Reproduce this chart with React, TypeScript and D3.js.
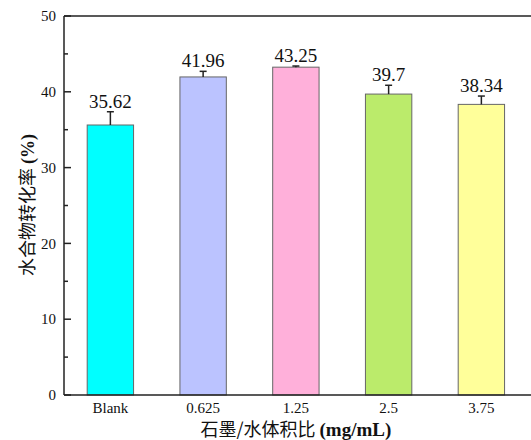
import React, { useEffect, useRef } from "react";
import * as d3 from "d3";

const categories = ["Blank", "0.625", "1.25", "2.5", "3.75"];
const values = [35.62, 41.96, 43.25, 39.7, 38.34];
const errors = [1.75, 0.74, 0.15, 1.16, 1.1];
const labels = ["35.62", "41.96", "43.25", "39.7", "38.34"];
const colors = ["#00FFFF", "#BBC3FF", "#FFB0DA", "#BBEB6B", "#FFFF9A"];
const majorTicks = [0, 10, 20, 30, 40, 50];
const minorTicks = [5, 15, 25, 35, 45];

export default function App() {
  const svgRef = useRef<SVGSVGElement>(null);

  useEffect(() => {
    const w = 531;
    const h = 440;
    const left = 64;
    const top = 16;
    const bottom = 395;
    const serif = "'Liberation Serif', 'Times New Roman', serif";

    d3.select(svgRef.current).selectAll("*").remove();
    const svg = d3.select(svgRef.current).attr("width", w).attr("height", h);

    const x = d3
      .scaleBand()
      .domain(categories)
      .range([left, left + 463.75])
      .paddingInner(0.5)
      .paddingOuter(0.25);

    const y = d3.scaleLinear().domain([0, 50]).range([bottom, top]);

    // bars
    svg
      .selectAll(".bar")
      .data(values)
      .join("rect")
      .attr("x", (d, i) => x(categories[i])!)
      .attr("y", (d) => y(d))
      .attr("width", x.bandwidth())
      .attr("height", (d) => y(0) - y(d))
      .attr("fill", (d, i) => colors[i])
      .attr("stroke", "#666")
      .attr("stroke-width", 1);

    // error bars (upper only)
    const eb = svg.append("g").attr("stroke", "#222").attr("stroke-width", 1.5);
    values.forEach((v, i) => {
      const cx = x(categories[i])! + x.bandwidth() / 2;
      eb.append("line").attr("x1", cx).attr("x2", cx).attr("y1", y(v)).attr("y2", y(v + errors[i]));
      eb.append("line")
        .attr("x1", cx - 3.5)
        .attr("x2", cx + 3.5)
        .attr("y1", y(v + errors[i]))
        .attr("y2", y(v + errors[i]));
    });

    // value labels
    svg
      .selectAll(".val")
      .data(values)
      .join("text")
      .attr("x", (d, i) => x(categories[i])! + x.bandwidth() / 2)
      .attr("y", (d, i) => y(d + errors[i]) - 4)
      .attr("text-anchor", "middle")
      .attr("font-family", serif)
      .attr("font-size", 19)
      .attr("fill", "#111")
      .text((d, i) => labels[i]);

    // frame lines
    const ax = svg.append("g").attr("stroke", "#222").attr("stroke-width", 1.5).attr("fill", "none");
    ax.append("line").attr("x1", left).attr("x2", w + 5).attr("y1", top).attr("y2", top);
    ax.append("line").attr("x1", left).attr("x2", w + 5).attr("y1", bottom).attr("y2", bottom);
    ax.append("line").attr("x1", left).attr("x2", left).attr("y1", top).attr("y2", bottom);

    // ticks (inward)
    majorTicks.forEach((t) => {
      ax.append("line").attr("x1", left).attr("x2", left + 7).attr("y1", y(t)).attr("y2", y(t));
    });
    minorTicks.forEach((t) => {
      ax.append("line").attr("x1", left).attr("x2", left + 4).attr("y1", y(t)).attr("y2", y(t));
    });

    svg
      .selectAll(".ytick")
      .data(majorTicks)
      .join("text")
      .attr("x", left - 8)
      .attr("y", (d) => y(d))
      .attr("dy", "0.35em")
      .attr("text-anchor", "end")
      .attr("font-family", serif)
      .attr("font-size", 15)
      .attr("fill", "#111")
      .text((d) => d);

    svg
      .selectAll(".xtick")
      .data(categories)
      .join("text")
      .attr("x", (d) => x(d)! + x.bandwidth() / 2)
      .attr("y", 413)
      .attr("text-anchor", "middle")
      .attr("font-family", serif)
      .attr("font-size", 15)
      .attr("fill", "#111")
      .text((d) => d);

    // x title
    const xt = svg
      .append("text")
      .attr("x", left + 463.75 / 2)
      .attr("y", 435.5)
      .attr("text-anchor", "middle")
      .attr("font-size", 18)
      .attr("fill", "#111");
    xt.append("tspan").attr("font-family", "'Noto Sans CJK SC', sans-serif").text("石墨/水体积比 ");
    xt.append("tspan").attr("font-family", serif).attr("font-weight", "bold").attr("font-size", 19).text("(mg/mL)");

    // y title
    const yt = svg
      .append("text")
      .attr("transform", `translate(34,205) rotate(-90)`)
      .attr("text-anchor", "middle")
      .attr("font-size", 18)
      .attr("fill", "#111");
    yt.append("tspan").attr("font-family", "'Noto Sans CJK SC', sans-serif").text("水合物转化率 ");
    yt.append("tspan").attr("font-family", serif).attr("font-weight", "bold").text("(%)");
  }, []);

  return (
    <svg
      ref={svgRef}
      style={{ position: "absolute", left: 0, top: 0, background: "#fff" }}
    ></svg>
  );
}
